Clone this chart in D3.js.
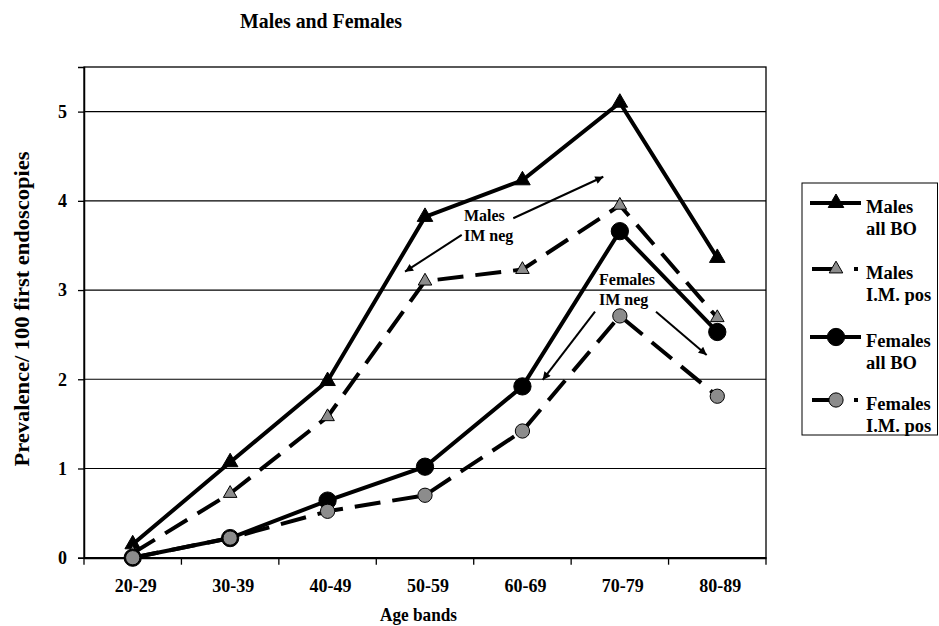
<!DOCTYPE html>
<html><head><meta charset="utf-8">
<script src="https://cdn.jsdelivr.net/npm/d3@7"></script>
<style>
html,body{margin:0;padding:0;background:#fff;}
svg{display:block;}
text{font-family:"Liberation Serif","Times New Roman",serif;font-weight:bold;fill:#000;}
</style></head>
<body>
<svg id="chart" width="939" height="626"></svg>
<script>
const categories = ["20-29","30-39","40-49","50-59","60-69","70-79","80-89"];
const malesAllBO   = [0.15, 1.07, 1.98, 3.82, 4.23, 5.10, 3.36];
const malesIMpos   = [0.05, 0.72, 1.58, 3.10, 3.23, 3.95, 2.69];
const femalesAllBO = [0.00, 0.22, 0.64, 1.02, 1.92, 3.66, 2.53];
const femalesIMpos = [0.00, 0.22, 0.52, 0.70, 1.42, 2.71, 1.81];
const yTicks = [0, 1, 2, 3, 4, 5];
const seriesNames = [["Males","all BO"],["Males","I.M. pos"],["Females","all BO"],["Females","I.M. pos"]];
// annotation anchors in data space: [category index, value]
const arrowFrom = [[3.906,3.805],[3.377,3.618],[4.745,2.758],[5.371,2.758]];
const arrowTo   = [[4.83,4.27],[2.795,3.206],[4.208,1.992],[5.891,2.272]];
const noteMales   = {idx:3.40, lines:[["Males",3.775],["IM neg",3.55]]};
const noteFemales = {idx:4.786, lines:[["Females",3.057],["IM neg",2.833]]};

const svg = d3.select("#chart");
const L = 84, R = 766, T = 67, B = 557.7;
const x = d3.scaleBand().domain(categories).range([L, R]).padding(0);
const y = d3.scaleLinear().domain([0, 5.5]).range([B, T]);
const bw = x.bandwidth();
const cx = c => x(c) + bw / 2;
const ix = i => L + bw / 2 + i * bw;

svg.append("defs").append("marker")
  .attr("id","ah").attr("viewBox","0 0 10 10").attr("refX",10).attr("refY",5)
  .attr("markerWidth",11).attr("markerHeight",8).attr("markerUnits","userSpaceOnUse")
  .attr("orient","auto")
  .append("path").attr("d","M0,0 L10,5 L0,10 z").attr("fill","#000");

// title
svg.append("text").attr("x",240).attr("y",28).attr("font-size",21)
  .attr("textLength",162).attr("lengthAdjust","spacingAndGlyphs").text("Males and Females");

// gridlines
svg.append("g").selectAll("line").data(yTicks.filter(d => d > 0)).join("line")
  .attr("x1",L).attr("x2",R).attr("y1",d=>y(d)).attr("y2",d=>y(d))
  .attr("stroke","#000").attr("stroke-width",1.2);

// plot frame
svg.append("rect").attr("x",L).attr("y",T).attr("width",R-L).attr("height",B-T)
  .attr("fill","none").attr("stroke","#000").attr("stroke-width",1.3);

// y axis
const yAxis = d3.axisLeft(y).tickValues(yTicks).tickSize(6).tickPadding(11).tickFormat(d3.format("d"));
const gy = svg.append("g").attr("transform",`translate(${L},0)`).call(yAxis);
gy.attr("font-size",null).attr("font-family",null);
gy.select(".domain").attr("stroke","#000").attr("stroke-width",1.5);
gy.selectAll(".tick line").attr("stroke","#000").attr("stroke-width",1.3);
gy.selectAll(".tick text").style("font-size","18px").style("font-weight","bold").attr("fill","#000");

// x axis with ticks between categories
const gx = svg.append("g").attr("transform",`translate(0,${B})`)
  .call(d3.axisBottom(x).tickSize(0).tickPadding(22));
gx.attr("font-size",null).attr("font-family",null);
gx.select(".domain").attr("stroke","#000").attr("stroke-width",2.2);
gx.selectAll(".tick text").style("font-size","18px").style("font-weight","bold").attr("fill","#000").attr("dx",3);
const boundaries = categories.map(c => x(c)).concat([R]);
svg.append("g").selectAll("line").data(boundaries).join("line")
  .attr("x1",d=>d).attr("x2",d=>d).attr("y1",B).attr("y2",B+7)
  .attr("stroke","#000").attr("stroke-width",1.3);

// axis titles
svg.append("text").attr("x",380).attr("y",621).attr("font-size",19.5)
  .attr("textLength",77).attr("lengthAdjust","spacingAndGlyphs").text("Age bands");
svg.append("text").attr("transform","translate(29,309) rotate(-90)")
  .attr("text-anchor","middle").attr("font-size",20)
  .attr("textLength",315).attr("lengthAdjust","spacingAndGlyphs")
  .text("Prevalence/ 100 first endoscopies");

// series
const series = [
  {vals: malesAllBO,   dash: null,    sym: d3.symbolTriangle, size: 105, fill: "#000",    stroke: "#000"},
  {vals: malesIMpos,   dash: "26 12", sym: d3.symbolTriangle, size: 80,  fill: "#8c8c8c", stroke: "#000"},
  {vals: femalesAllBO, dash: null,    sym: d3.symbolCircle,   size: 235, fill: "#000",    stroke: "#000"},
  {vals: femalesIMpos, dash: "26 12", sym: d3.symbolCircle,   size: 160, fill: "#8c8c8c", stroke: "#000"}
];
const line = d3.line().x((d,i)=>cx(categories[i])).y(d=>y(d));
series.forEach(s => {
  const g = svg.append("g");
  g.append("path").attr("d", line(s.vals)).attr("fill","none")
    .attr("stroke","#000").attr("stroke-width",4).attr("stroke-dasharray", s.dash);
  g.selectAll("path.m").data(s.vals).join("path").attr("class","m")
    .attr("transform",(d,i)=>`translate(${cx(categories[i])},${y(d)})`)
    .attr("d", d3.symbol().type(s.sym).size(s.size))
    .attr("fill", s.fill).attr("stroke", s.stroke).attr("stroke-width",1);
});

// annotations
arrowFrom.forEach((f,k) => {
  const t = arrowTo[k];
  svg.append("line").attr("x1",ix(f[0])).attr("y1",y(f[1]))
    .attr("x2",ix(t[0])).attr("y2",y(t[1]))
    .attr("stroke","#000").attr("stroke-width",2).attr("marker-end","url(#ah)");
});
[noteMales, noteFemales].forEach(n => {
  n.lines.forEach(([txt,v]) => {
    svg.append("text").attr("x", ix(n.idx)).attr("y", y(v)).attr("font-size",16).text(txt);
  });
});

// legend
const lg = svg.append("g");
lg.append("rect").attr("x",802).attr("y",183).attr("width",135.5).attr("height",252)
  .attr("fill","#fff").attr("stroke","#000").attr("stroke-width",1);
const legY = [203, 269, 337, 400];
series.forEach((s,k) => {
  const yy = legY[k];
  const ln = lg.append("line").attr("y1",yy).attr("y2",yy).attr("stroke","#000").attr("stroke-width",4);
  if (s.dash) ln.attr("x1",812).attr("x2",858).attr("stroke-dasharray","20 22 4 100");
  else ln.attr("x1",810).attr("x2",861);
  lg.append("path").attr("transform",`translate(836,${yy})`)
    .attr("d", d3.symbol().type(s.sym).size(s.size))
    .attr("fill", s.fill).attr("stroke", s.stroke).attr("stroke-width",1);
  seriesNames[k].forEach((t,j) => {
    lg.append("text").attr("x",866).attr("y", yy + 10 + j*21.5).attr("font-size",18.5).text(t);
  });
});
</script>
</body></html>
